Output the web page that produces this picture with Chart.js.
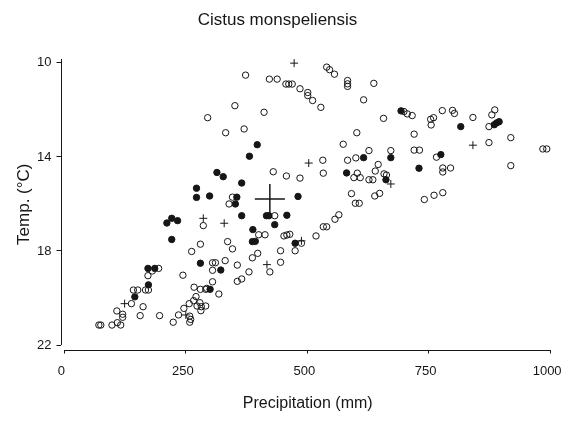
<!DOCTYPE html>
<html>
<head>
<meta charset="utf-8">
<script src="https://cdn.jsdelivr.net/npm/chart.js@4.4.1/dist/chart.umd.min.js"></script>
<style>
  html, body { margin: 0; padding: 0; background: #fff; }
</style>
</head>
<body>
<canvas id="chart" width="563" height="425"></canvas>
<script>
// Cistus monspeliensis: precipitation (mm) vs temperature (°C)
const title_text = "Cistus monspeliensis";
const x_title = "Precipitation (mm)";
const y_title = "Temp. (°C)";
const x_ticks = [0, 250, 500, 750, 1000];
const y_ticks = [10, 14, 18, 22];

// open circles [precipitation, temperature]
const open_points = [
  [295,12.33],[332,12.97],[373,10.52],[422,10.69],[438,10.69],[456,10.90],[462,10.90],[469,10.90],
  [485,11.10],[501,11.26],[501,11.39],[511,11.60],[528,11.89],[351,11.82],[411,12.10],[370,12.81],
  [346,15.71],[339,16.00],[430,14.63],[457,14.81],[485,14.90],[540,10.18],[546,10.29],[556,10.48],
  [583,10.75],[583,10.89],[583,11.00],[637,10.87],[616,11.57],[657,12.36],[602,12.97],[574,13.46],
  [627,13.73],[672,13.73],[600,14.04],[583,14.14],[532,14.14],[533,14.69],[603,14.69],[596,14.88],
  [609,14.88],[627,14.97],[635,14.97],[646,14.32],[640,14.60],[658,14.72],[663,14.77],[591,15.56],
  [639,15.66],[649,15.55],[699,12.07],[706,12.17],[716,12.24],[720,13.03],[720,13.71],[731,13.71],
  [754,12.40],[760,12.33],[755,12.64],[778,12.03],[799,12.02],[803,12.15],[841,12.32],[886,12.00],
  [880,12.21],[874,12.71],[874,13.39],[919,13.18],[919,14.37],[985,13.66],[993,13.66],[766,14.01],
  [779,14.47],[795,14.47],[779,14.64],[779,15.52],[761,15.63],[741,15.81],[286,16.92],[336,17.60],
  [280,17.71],[262,18.02],[305,18.50],[311,18.50],[331,18.41],[305,18.82],[244,19.03],[194,18.74],
  [181,18.85],[172,19.05],[142,19.66],[151,19.66],[167,19.66],[173,19.66],[138,20.24],[162,20.37],
  [108,20.55],[120,20.69],[120,20.82],[156,20.75],[196,20.75],[71,21.15],[75,21.15],[98,21.15],
  [109,21.05],[116,21.15],[305,19.31],[267,19.54],[280,19.63],[291,19.63],[293,19.59],[318,19.83],
  [271,19.94],[266,20.11],[257,20.24],[279,20.20],[273,20.34],[282,20.37],[291,20.34],[281,20.54],
  [246,20.44],[235,20.72],[224,21.03],[258,20.77],[260,20.91],[258,21.03],[433,16.50],[400,17.31],
  [413,17.31],[452,17.36],[458,17.32],[464,17.29],[488,17.67],[475,17.99],[445,17.99],[346,17.91],
  [398,18.10],[387,18.29],[356,18.60],[445,18.48],[423,18.89],[380,18.89],[365,19.19],[356,19.29],
  [518,17.36],[533,16.97],[540,16.97],[557,16.65],[565,16.46],[599,15.97],[607,15.97]
];

// filled circles
const filled_points = [
  [314,14.66],[327,14.84],[272,15.33],[272,15.72],[299,15.66],[397,13.48],[381,13.97],[365,15.11],
  [355,15.71],[481,15.68],[616,14.03],[672,14.03],[581,14.68],[662,14.97],[693,12.04],[816,12.71],
  [885,12.63],[890,12.55],[895,12.50],[775,13.90],[730,14.48],[211,16.81],[221,16.61],[233,16.71],
  [221,17.51],[280,18.52],[322,18.81],[172,18.74],[186,18.74],[173,19.44],[145,19.95],[300,19.63],
  [352,16.00],[365,16.50],[416,16.50],[421,16.50],[458,16.48],[433,16.88],[388,17.09],[387,17.60],
  [393,17.59],[475,17.67]
];

// plus signs
const plus_points = [
  [473,10.01],[503,14.26],[672,15.15],[841,13.50],[286,16.61],[329,16.82],[124,20.24],[250,20.72],
  [417,18.58],[488,17.57]
];

// mean with spread bars
const mean_point = [423, 15.79];
const mean_spread = [31, 0.64];

const ink = "#161616";
const family = "'Liberation Sans', Arial, sans-serif";
const toXY = pts => pts.map(([x, y]) => ({ x, y }));

// axis lines that stop at the end ticks, so the two axes do not meet
const axis_lines = {
  id: "axis_lines",
  afterDraw(chart) {
    const { ctx, chartArea, scales: { x, y } } = chart;
    const bx = Math.round(chartArea.left) + 0.5;
    const by = Math.round(chartArea.bottom) + 0.5;
    ctx.save();
    ctx.strokeStyle = ink;
    ctx.lineWidth = 1;
    ctx.beginPath();
    ctx.moveTo(bx, chartArea.top);
    ctx.lineTo(bx, y.getPixelForValue(y_ticks[y_ticks.length - 1]));
    ctx.moveTo(x.getPixelForValue(x_ticks[0]), by);
    ctx.lineTo(x.getPixelForValue(x_ticks[x_ticks.length - 1]), by);
    ctx.stroke();
    ctx.restore();
  }
};

new Chart(document.getElementById("chart"), {
  type: "scatter",
  data: {
    datasets: [
      {
        data: toXY(open_points),
        pointStyle: "circle",
        pointRadius: 3.2,
        borderWidth: 1,
        borderColor: ink,
        backgroundColor: "rgba(0,0,0,0)",
        clip: false
      },
      {
        data: toXY(filled_points),
        pointStyle: "circle",
        pointRadius: 3.2,
        borderWidth: 1,
        borderColor: ink,
        backgroundColor: ink,
        clip: false
      },
      {
        data: toXY(plus_points),
        pointStyle: "cross",
        pointRadius: 4,
        borderWidth: 1,
        borderColor: ink,
        clip: false
      },
      {
        type: "line",
        data: [
          { x: mean_point[0] - mean_spread[0], y: mean_point[1] },
          { x: mean_point[0] + mean_spread[0], y: mean_point[1] }
        ],
        borderColor: ink,
        borderWidth: 1.5,
        pointRadius: 0
      },
      {
        type: "line",
        data: [
          { x: mean_point[0], y: mean_point[1] - mean_spread[1] },
          { x: mean_point[0], y: mean_point[1] + mean_spread[1] }
        ],
        borderColor: ink,
        borderWidth: 1.5,
        pointRadius: 0
      }
    ]
  },
  plugins: [axis_lines],
  options: {
    responsive: false,
    animation: false,
    devicePixelRatio: 1,
    layout: { padding: { left: 0, right: 8, top: 0, bottom: 0 } },
    plugins: {
      legend: { display: false },
      tooltip: { enabled: false },
      title: {
        display: true,
        text: title_text,
        color: ink,
        font: { family, size: 17, weight: "normal" },
        padding: { top: 10.5, bottom: 28 }
      }
    },
    scales: {
      x: {
        type: "linear",
        min: -8,
        max: 1010,
        afterBuildTicks: s => { s.ticks = x_ticks.map(v => ({ value: v })); },
        afterFit: s => { s.height = 75.5; s.paddingLeft = 0; s.paddingRight = 0; },
        grid: { drawOnChartArea: false, tickLength: 4, color: ink },
        border: { display: false },
        ticks: { padding: 10, labelOffset: -3, color: ink, font: { family, size: 13 }, callback: v => String(v) },
        title: {
          display: true,
          text: x_title,
          color: ink,
          font: { family, size: 16 },
          padding: { top: 0, bottom: 12 }
        }
      },
      y: {
        type: "linear",
        reverse: true,
        min: 9.83,
        max: 22.19,
        afterBuildTicks: s => { s.ticks = y_ticks.map(v => ({ value: v })); },
        afterFit: s => { s.width = 60.5; s.paddingTop = 0; s.paddingBottom = 0; },
        grid: { drawOnChartArea: false, tickLength: 4, color: ink },
        border: { display: false },
        ticks: { padding: 5, color: ink, font: { family, size: 13 }, callback: v => String(v) },
        title: {
          display: true,
          text: y_title,
          color: ink,
          font: { family, size: 17 },
          padding: { top: 14, bottom: 0 }
        }
      }
    }
  }
});
</script>
</body>
</html>
